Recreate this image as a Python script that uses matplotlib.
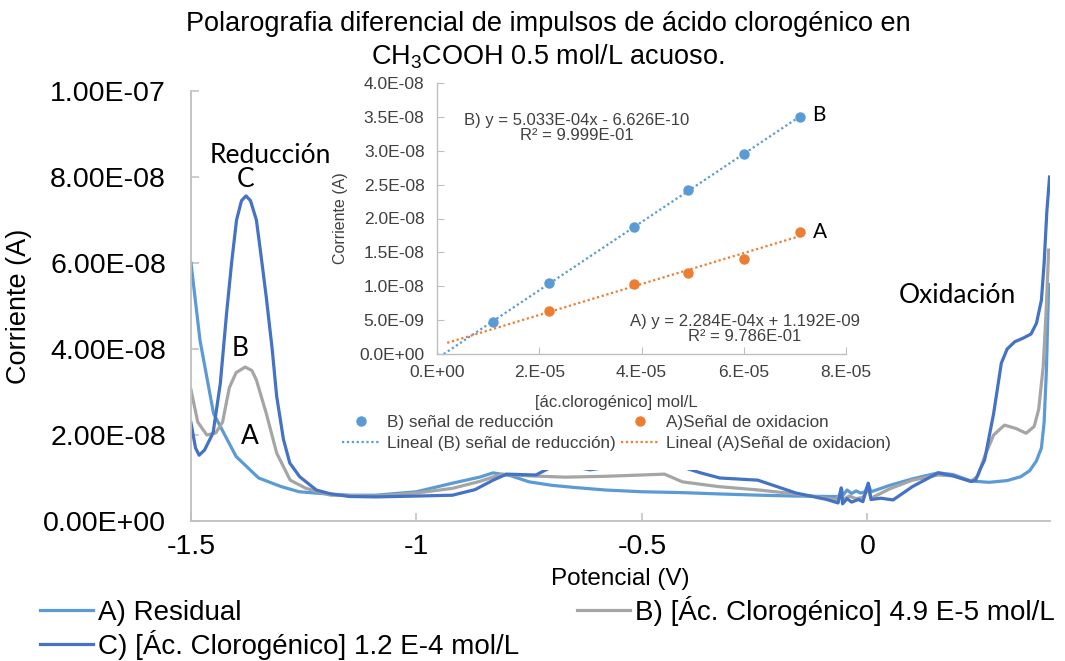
import matplotlib
matplotlib.use("Agg")
import matplotlib.pyplot as plt
from matplotlib.patches import Rectangle
from matplotlib.lines import Line2D
from matplotlib.ticker import FuncFormatter, MultipleLocator

plt.rcParams['font.family'] = ['Liberation Sans', 'DejaVu Sans']
plt.rcParams['axes.unicode_minus'] = False
plt.rcParams['mathtext.fontset'] = 'custom'
plt.rcParams['mathtext.rm'] = 'Liberation Sans'

# %% main curves: potential (V) and current (nA)
volt_A = [-1.50, -1.48, -1.45, -1.42, -1.40, -1.37, -1.35, -1.30, -1.26, -1.20, -1.15, -1.09,
          -1.00, -0.92, -0.86, -0.83, -0.79, -0.75, -0.70, -0.65, -0.58, -0.50, -0.41, -0.33,
          -0.24, -0.16, -0.08, -0.062, -0.058, -0.054, -0.045, -0.035, -0.025, -0.015, -0.005,
          0.002, 0.008, 0.05, 0.10, 0.157, 0.19, 0.23, 0.27, 0.31, 0.34, 0.36, 0.375, 0.386,
          0.392, 0.397, 0.402]
cur_A = [60, 42, 25, 19, 15, 12, 10, 8, 6.8, 6.3, 6.0, 6.0,
         6.8, 8.8, 10.2, 11.2, 10.5, 9.1, 8.3, 7.8, 7.2, 6.8, 6.6, 6.3,
         6.0, 5.8, 5.7, 5.7, 7.6, 6.0, 7.2, 6.4, 7.0, 6.5, 6.8,
         8.6, 6.8, 8.3, 9.8, 11.2, 10.8, 9.3, 9.0, 9.4, 10.3, 11.7, 14, 17,
         23, 35, 55]

volt_B = [-1.50, -1.485, -1.465, -1.445, -1.43, -1.415, -1.40, -1.38, -1.365, -1.355, -1.333,
          -1.31, -1.28, -1.245, -1.19, -1.09, -1.00, -0.92, -0.86, -0.81, -0.75, -0.67, -0.58,
          -0.50, -0.45, -0.41, -0.33, -0.24, -0.16, -0.07, -0.058, -0.054, -0.04, -0.025,
          -0.01, 0.002, 0.008, 0.05, 0.10, 0.157, 0.19, 0.23, 0.245, 0.26, 0.28, 0.304, 0.33,
          0.352, 0.37, 0.38, 0.39, 0.397, 0.402]
cur_B = [30.5, 23, 20, 20.5, 23, 31, 34.5, 35.8, 35, 32.8, 25,
         15.8, 9.5, 7.6, 6.0, 5.8, 6.5, 7.6, 9.2, 10.9, 10.5, 10.2, 10.4,
         10.7, 10.9, 9.1, 8.0, 7.2, 6.3, 5.0, 6.5, 5.0, 5.8, 5.2,
         5.5, 7.5, 5.3, 7.5, 9.5, 10.7, 10.5, 9.2, 10.5, 15, 20, 22.3, 21.5,
         20.4, 22, 26, 36, 50, 63]

volt_C = [-1.50, -1.49, -1.482, -1.47, -1.451, -1.435, -1.421, -1.41, -1.399, -1.388, -1.378,
          -1.368, -1.355, -1.345, -1.333, -1.32, -1.31, -1.295, -1.281, -1.259, -1.222, -1.19,
          -1.148, -1.09, -1.00, -0.92, -0.87, -0.83, -0.80, -0.735, -0.70, -0.66, -0.615, -0.57,
          -0.531, -0.50, -0.47, -0.44, -0.412, -0.37, -0.327, -0.243, -0.158, -0.09, -0.065,
          -0.058, -0.055, -0.045, -0.035, -0.02, -0.01, 0.002, 0.008, 0.03, 0.057, 0.10, 0.157,
          0.19, 0.23, 0.24, 0.25, 0.26, 0.28, 0.297, 0.31, 0.327, 0.345, 0.363, 0.375, 0.386,
          0.392, 0.398, 0.404]
cur_C = [22.8, 17, 15.3, 16.5, 20.5, 32, 48.4, 60, 70, 74.5, 75.6,
         74.5, 70, 62, 52, 40, 29, 19, 13.5, 10.3, 7.2, 6.3,
         5.7, 5.6, 5.8, 6.0, 7.3, 9.5, 10.9, 10.7, 12.6, 12.8, 11.9, 12.6,
         13.8, 15.5, 16, 15, 12.6, 11.2, 10.0, 9.5, 6.5, 5.0, 4.2,
         7.7, 4.0, 5.2, 4.4, 5.0, 4.5, 8.8, 5.0, 5.3, 4.9, 8.0, 11.2,
         10.5, 9.2, 9.5, 12, 14.2, 25, 36.7, 40, 41.7, 42.5, 43.5, 46, 51.4,
         60, 72, 80]

legend_main = ["A) Residual", "B) [Ác. Clorogénico] 4.9 E-5 mol/L",
               "C) [Ác. Clorogénico] 1.2 E-4 mol/L"]

# %% inset: calibration points
conc_red = [1.1e-5, 2.2e-5, 3.85e-5, 4.9e-5, 6.0e-5, 7.1e-5]
sig_red = [4.7e-9, 1.05e-8, 1.88e-8, 2.42e-8, 2.95e-8, 3.5e-8]
conc_ox = [2.2e-5, 3.85e-5, 4.9e-5, 6.0e-5, 7.1e-5]
sig_ox = [6.3e-9, 1.03e-8, 1.2e-8, 1.4e-8, 1.8e-8]
# trendline coefficients as printed on the chart
slope_red, icpt_red = 5.033e-4, -6.626e-10
slope_ox, icpt_ox = 2.284e-4, 1.192e-9
trend_x_red = [1.316e-6, 7.1e-5]
trend_x_ox = [2.0e-6, 7.1e-5]

c_res, c_b, c_c = '#5B9BD5', '#A5A5A5', '#4472C4'
c_blue, c_orange = '#5B9BD5', '#ED7D31'
axis_gray = '#BFBFBF'
txt_gray = '#404040'

W, H = 1065, 661
fig = plt.figure(figsize=(W / 100, H / 100), dpi=100)

# %% main chart
ax = fig.add_axes([191 / W, 1 - 521 / H, (1050 - 191) / W, (521 - 91) / H])
ax.plot(volt_A, [v * 1e-9 for v in cur_A], color=c_res, lw=2.3, solid_joinstyle='round')
ax.plot(volt_B, [v * 1e-9 for v in cur_B], color=c_b, lw=2.3, solid_joinstyle='round')
ax.plot(volt_C, [v * 1e-9 for v in cur_C], color=c_c, lw=2.3, solid_joinstyle='round')
ax.set_xlim(-1.5, 0.405)
ax.set_ylim(0, 1e-7)
ax.xaxis.set_major_locator(MultipleLocator(0.5))
ax.yaxis.set_major_locator(MultipleLocator(2e-8))
ax.xaxis.set_major_formatter(FuncFormatter(lambda v, p: '{:g}'.format(round(v, 2))))
ax.yaxis.set_major_formatter(FuncFormatter(lambda v, p: '{:.2E}'.format(v)))
for s in ['top', 'right']:
    ax.spines[s].set_visible(False)
for s in ['left', 'bottom']:
    ax.spines[s].set_color(axis_gray)
    ax.spines[s].set_linewidth(1.3)
ax.tick_params(axis='both', direction='in', color=axis_gray, width=1.1, length=6, labelsize=20.5)
ax.tick_params(axis='y', pad=18)
ax.tick_params(axis='x', pad=9)
ax.set_xlabel("Potencial (V)", fontsize=17.5, labelpad=6)
ax.set_ylabel("Corriente (A)", fontsize=19.5, labelpad=8)

lbl_font = ['Lato', 'DejaVu Sans']
ax.text(-1.325, 8.5e-8, "Reducción", fontsize=19, family=lbl_font, ha='center', va='center')
ax.text(-1.378, 7.95e-8, "C", fontsize=19, family=lbl_font, ha='center', va='center')
ax.text(-1.39, 4.0e-8, "B", fontsize=19, family=lbl_font, ha='center', va='center')
ax.text(-1.37, 1.97e-8, "A", fontsize=19, family=lbl_font, ha='center', va='center')
ax.text(0.2, 5.25e-8, "Oxidación", fontsize=19, family=lbl_font, ha='center', va='center')

fig.text(548 / W, 1 - 41 / H,
         "Polarografia diferencial de impulsos de ácido clorogénico en\n"
         "CH$_\\mathregular{3}$COOH 0.5 mol/L acuoso.",
         ha='center', va='center', fontsize=19.5, linespacing=1.25)

h_a = Line2D([], [], color=c_res, lw=2.3)
h_b = Line2D([], [], color=c_b, lw=2.3)
h_c = Line2D([], [], color=c_c, lw=2.3)
fig.legend([h_a, h_c, h_b], [legend_main[0], legend_main[2], legend_main[1]], ncol=2,
           loc='center left', bbox_to_anchor=(40 / W, 1 - 628 / H), frameon=False,
           fontsize=20, handlelength=1.9, handletextpad=0.18, columnspacing=2.1,
           labelspacing=0.15, borderpad=0, borderaxespad=0)

# white chart area of the inset covers the curves
fig.add_artist(Rectangle((333 / W, 1 - 470 / H), 557 / W, 398 / H, transform=fig.transFigure,
                         facecolor='white', edgecolor='none', zorder=1))

# %% inset chart
ax2 = fig.add_axes([437 / W, 1 - 354 / H, 409 / W, 271 / H])
ax2.set_zorder(2)
ax2.patch.set_alpha(0)
ax2.plot(conc_red, sig_red, 'o', color=c_blue, ms=6.5, label="B) señal de reducción")
ax2.plot(trend_x_red, [slope_red * x + icpt_red for x in trend_x_red], color=c_blue, lw=1.6,
         ls=(0, (1, 1.2)), label="Lineal (B) señal de reducción)")
ax2.plot(conc_ox, sig_ox, 'o', color=c_orange, ms=6.5, label="A)Señal de oxidacion")
ax2.plot(trend_x_ox, [slope_ox * x + icpt_ox for x in trend_x_ox], color=c_orange, lw=1.6,
         ls=(0, (1, 1.2)), label="Lineal (A)Señal de oxidacion)")
ax2.set_xlim(0, 8e-5)
ax2.set_ylim(0, 4e-8)
ax2.xaxis.set_major_locator(MultipleLocator(2e-5))
ax2.yaxis.set_major_locator(MultipleLocator(5e-9))
ax2.xaxis.set_major_formatter(FuncFormatter(lambda v, p: '{:#.0E}'.format(v)))
ax2.yaxis.set_major_formatter(FuncFormatter(lambda v, p: '{:.1E}'.format(v)))
for s in ['top', 'right']:
    ax2.spines[s].set_visible(False)
for s in ['left', 'bottom']:
    ax2.spines[s].set_color(axis_gray)
    ax2.spines[s].set_linewidth(1.0)
ax2.tick_params(axis='both', direction='in', color=axis_gray, length=5, labelsize=12.5,
                labelcolor=txt_gray)
ax2.tick_params(axis='y', pad=9)
ax2.tick_params(axis='x', pad=8)
ax2.set_xlabel("[ác.clorogénico] mol/L", fontsize=12, color=txt_gray)
ax2.xaxis.set_label_coords(0.438, -0.151)
ax2.set_ylabel("Corriente (A)", fontsize=11.5, color=txt_gray)
ax2.yaxis.set_label_coords(-0.218, 0.5)

fig.text(577 / W, 1 - 128 / H, "B) y = 5.033E-04x - 6.626E-10\nR² = 9.999E-01",
         ha='center', va='center', fontsize=12, color=txt_gray, linespacing=1.05, zorder=3)
fig.text(745 / W, 1 - 329 / H, "A) y = 2.284E-04x + 1.192E-09\nR² = 9.786E-01",
         ha='center', va='center', fontsize=12, color=txt_gray, linespacing=1.05, zorder=3)
ax2.annotate("B", (conc_red[-1], sig_red[-1]), xytext=(9, 1), textcoords='offset points',
             fontsize=15, family=lbl_font, va='center')
ax2.annotate("A", (conc_ox[-1], sig_ox[-1]), xytext=(9, 0), textcoords='offset points',
             fontsize=15, family=lbl_font, va='center')

hl = ax2.get_legend_handles_labels()
ax2.legend(hl[0], hl[1], ncol=2, loc='center left', bbox_to_anchor=(342 / W, 1 - 433 / H),
           bbox_transform=fig.transFigure, frameon=False, fontsize=12.3, handlelength=2.2,
           handletextpad=0.45, columnspacing=0.3, labelspacing=0.3, borderpad=0,
           borderaxespad=0, numpoints=1, labelcolor=txt_gray)

fig.savefig("out.png", dpi=100)
